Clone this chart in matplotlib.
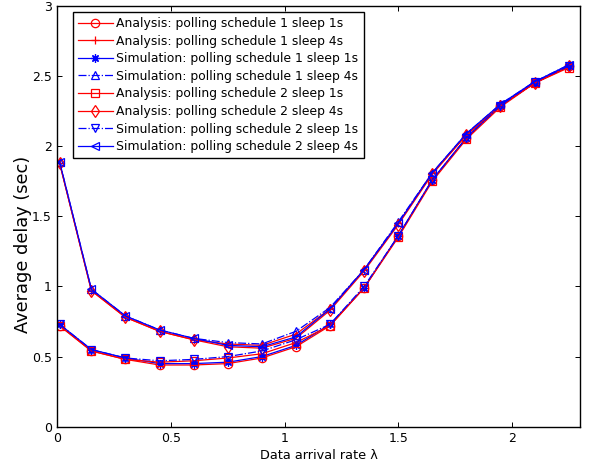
"""Average delay vs data arrival rate: analysis vs simulation for two polling schedules."""

import matplotlib

matplotlib.use("Agg")
import matplotlib.pyplot as plt

plt.rcParams["font.family"] = ["DejaVu Sans"]

# Data arrival rate (x) shared by every series.
rate = [0.01, 0.15, 0.30, 0.45, 0.60, 0.75, 0.90, 1.05, 1.20, 1.35, 1.50, 1.65, 1.80, 1.95, 2.10, 2.25]

# Schedule 1
ana_s1_1s = [0.72, 0.54, 0.48, 0.44, 0.44, 0.45, 0.49, 0.57, 0.72, 0.99, 1.36, 1.76, 2.06, 2.29, 2.45, 2.57]
ana_s1_4s = [1.88, 0.97, 0.78, 0.68, 0.62, 0.59, 0.58, 0.66, 0.84, 1.12, 1.45, 1.81, 2.08, 2.29, 2.45, 2.57]
sim_s1_1s = [0.73, 0.55, 0.49, 0.45, 0.45, 0.46, 0.50, 0.58, 0.73, 0.99, 1.36, 1.76, 2.06, 2.29, 2.45, 2.57]
sim_s1_4s = [1.89, 0.98, 0.79, 0.69, 0.63, 0.60, 0.59, 0.68, 0.85, 1.12, 1.46, 1.81, 2.09, 2.30, 2.46, 2.58]
# Schedule 2
ana_s2_1s = [0.72, 0.54, 0.48, 0.46, 0.47, 0.49, 0.52, 0.60, 0.72, 0.99, 1.35, 1.75, 2.05, 2.28, 2.45, 2.56]
ana_s2_4s = [1.88, 0.97, 0.78, 0.68, 0.62, 0.57, 0.56, 0.63, 0.83, 1.11, 1.44, 1.80, 2.08, 2.29, 2.45, 2.57]
sim_s2_1s = [0.73, 0.55, 0.49, 0.47, 0.48, 0.50, 0.54, 0.62, 0.73, 1.00, 1.36, 1.76, 2.06, 2.29, 2.46, 2.57]
sim_s2_4s = [1.89, 0.98, 0.79, 0.69, 0.63, 0.58, 0.57, 0.64, 0.84, 1.12, 1.45, 1.81, 2.09, 2.30, 2.46, 2.58]

series = [
    ("Analysis: polling schedule 1 sleep 1s", ana_s1_1s, "r", "-", "o"),
    ("Analysis: polling schedule 1 sleep 4s", ana_s1_4s, "r", "-", "+"),
    ("Simulation: polling schedule 1 sleep 1s", sim_s1_1s, "b", "-", (8, 2, 0)),
    ("Simulation: polling schedule 1 sleep 4s", sim_s1_4s, "b", "-.", "^"),
    ("Analysis: polling schedule 2 sleep 1s", ana_s2_1s, "r", "-", "s"),
    ("Analysis: polling schedule 2 sleep 4s", ana_s2_4s, "r", "-", "d"),
    ("Simulation: polling schedule 2 sleep 1s", sim_s2_1s, "b", "-.", "v"),
    ("Simulation: polling schedule 2 sleep 4s", sim_s2_4s, "b", "-", "<"),
]

fig = plt.figure(figsize=(5.89, 4.66), dpi=100)
ax = fig.add_axes([57.3 / 589, 1 - 426.7 / 466, (580 - 57.3) / 589, (426.7 - 6) / 466])

for label, vals, color, ls, mk in series:
    ax.plot(rate, vals, color=color, linestyle=ls, marker=mk, markersize=6,
            markerfacecolor="none", markeredgecolor=color, linewidth=0.9,
            markeredgewidth=0.9, label=label)

ax.set_xlim(0, 2.3)
ax.set_ylim(0, 3)
ax.set_xticks([0, 0.5, 1, 1.5, 2])
ax.set_xticklabels(["0", "0.5", "1", "1.5", "2"])
ax.set_yticks([0, 0.5, 1, 1.5, 2, 2.5, 3])
ax.set_yticklabels(["0", "0.5", "1", "1.5", "2", "2.5", "3"])
ax.tick_params(direction="in", top=True, right=True, length=3.6, width=0.7,
               labelsize=9, pad=4)
for sp in ax.spines.values():
    sp.set_linewidth(1.0)

ax.set_xlabel("Data arrival rate λ", fontsize=9.3, labelpad=3)
ax.set_ylabel("Average delay (sec)", fontsize=12.8)
ax.yaxis.set_label_coords(-0.048, 0.434)

leg = ax.legend(loc="upper left", bbox_to_anchor=(0.030, 0.986), borderaxespad=0,
                fontsize=8.9, frameon=True, fancybox=False, edgecolor="black",
                framealpha=1, handlelength=2.8, handletextpad=0.3,
                labelspacing=0.37, borderpad=0.42)
leg.get_frame().set_linewidth(1.0)

fig.savefig("out.png", dpi=100)
